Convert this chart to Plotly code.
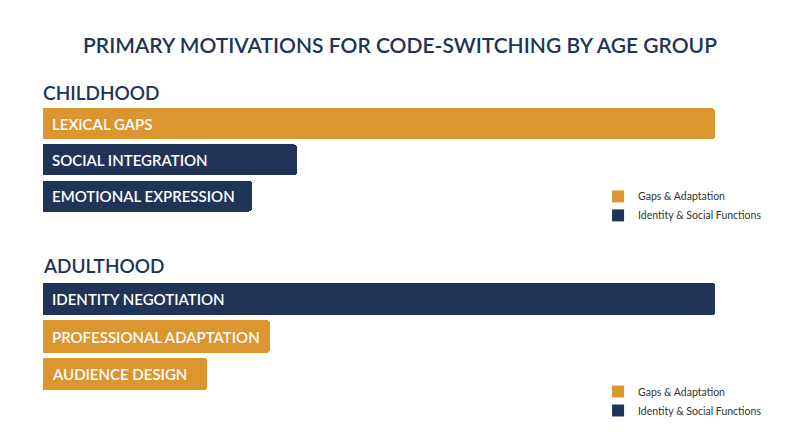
import plotly.graph_objects as go

# Data
groups = ["CHILDHOOD", "ADULTHOOD"]
child_labels = ["LEXICAL GAPS", "SOCIAL INTEGRATION", "EMOTIONAL EXPRESSION"]
child_values = [45, 17, 14]
child_kinds = ["Gaps & Adaptation", "Identity & Social Functions", "Identity & Social Functions"]
adult_labels = ["IDENTITY NEGOTIATION", "PROFESSIONAL ADAPTATION", "AUDIENCE DESIGN"]
adult_values = [45, 15.2, 11]
adult_kinds = ["Identity & Social Functions", "Gaps & Adaptation", "Gaps & Adaptation"]
kinds = ["Gaps & Adaptation", "Identity & Social Functions"]

colors = {"Gaps & Adaptation": "#DC962F", "Identity & Social Functions": "#1F3457"}
navy = "#1F3457"
font = "Lato"

fig = go.Figure()

panels = [
    (child_labels, child_values, child_kinds, "x", "y", "legend"),
    (adult_labels, adult_values, adult_kinds, "x2", "y2", "legend2"),
]

for labels, values, ktypes, xa, ya, leg in panels:
    for k in kinds:
        ys = [l for l, t in zip(labels, ktypes) if t == k]
        xs = [v for v, t in zip(values, ktypes) if t == k]
        fig.add_trace(go.Bar(
            x=xs, y=ys, orientation="h", name=k, showlegend=False,
            marker=dict(color=colors[k], cornerradius=3, line=dict(width=0)),
            xaxis=xa, yaxis=ya, hoverinfo="x+y",
        ))
        # legend entry with square swatch
        fig.add_trace(go.Bar(
            x=[None], y=[None], orientation="h", name=k, showlegend=True,
            marker=dict(color=colors[k], line=dict(width=0)),
            xaxis=xa, yaxis=ya, legend=leg, hoverinfo="skip",
        ))
    # labels inside the bars
    for l in labels:
        fig.add_annotation(
            x=0, y=l, xref=xa, yref=ya, text=l, showarrow=False,
            xanchor="left", xshift=7,
            font=dict(family=font, size=15, color="white", weight=600),
        )

# Group headings
for g, yy in zip(groups, [0.810, 0.423]):
    fig.add_annotation(
        x=0, y=yy, xref="paper", yref="paper", text=g, showarrow=False,
        xanchor="left", yanchor="middle", xshift=-2,
        font=dict(family=font, size=19, color=navy, weight=600),
    )

axis_x = dict(range=[0, 45], visible=False, fixedrange=True)
legend_font = dict(family=font, size=10.5, color="#333333")
fig.update_layout(
    width=800, height=447,
    margin=dict(l=35, r=93, t=0, b=0),
    paper_bgcolor="white", plot_bgcolor="white",
    barmode="stack", bargap=0.14,
    title=dict(text="PRIMARY MOTIVATIONS FOR CODE-SWITCHING BY AGE GROUP",
               x=0.49, xref="container", xanchor="center",
               y=0.915, yanchor="middle",
               font=dict(family=font, size=21, color=navy, weight=600)),
    xaxis=dict(axis_x, anchor="y"),
    xaxis2=dict(axis_x, anchor="y2"),
    yaxis=dict(domain=[0.539, 0.781], categoryorder="array", categoryarray=child_labels,
               autorange="reversed", visible=False),
    yaxis2=dict(domain=[0.139, 0.391], categoryorder="array", categoryarray=adult_labels,
                autorange="reversed", visible=False),
    legend=dict(x=0.826, y=0.611, xanchor="left", yanchor="top", traceorder="normal",
                font=legend_font, itemwidth=30),
    legend2=dict(x=0.826, y=0.1745, xanchor="left", yanchor="top", traceorder="normal",
                 font=legend_font, itemwidth=30),
    showlegend=True,
)

fig.write_html("out.html")
